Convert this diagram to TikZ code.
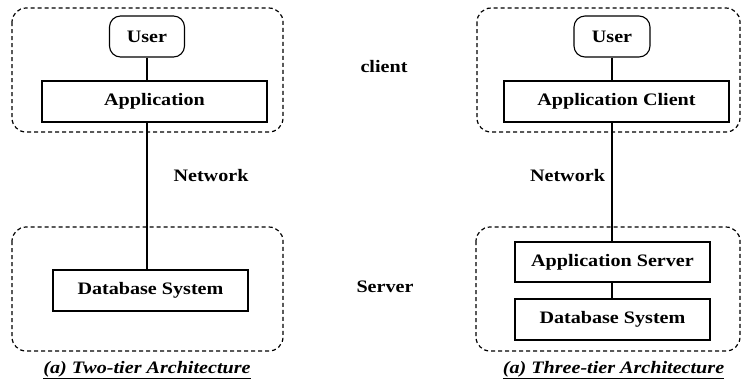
\documentclass[tikz,border=0pt]{standalone}
\usepackage{fontspec}
\setmainfont[FakeStretch=1.15]{Liberation Serif}
\begin{document}
\begin{tikzpicture}[x=1pt,y=-1pt,
  every node/.style={font=\fontsize{17.5}{20}\selectfont\bfseries},
  grp/.style={draw, dash pattern=on 4pt off 3pt, line width=1.2pt, rounded corners=14pt},
  box/.style={draw, line width=1.1pt, inner sep=0pt},
  usr/.style={draw, line width=1.1pt, rounded corners=11pt, inner sep=0pt},
  conn/.style={line width=1.2pt},
  lbl/.style={inner sep=0pt},
  captxt/.style={font=\fontsize{17.5}{20}\selectfont\bfseries\itshape, inner sep=0pt}]
\useasboundingbox (0,0) rectangle (741,384);
% left
\draw[grp] (12,8) rectangle (283,132);
\draw[grp] (12,227) rectangle (283,351);
\node[usr, minimum width=75pt, minimum height=41pt] (u1) at (147,36.5) {User};
\node[box, minimum width=225pt, minimum height=41pt] (a1) at (154.5,101.5) {Application};
\node[box, minimum width=195pt, minimum height=41pt] (d1) at (150.5,290.5) {Database System};
\draw[conn] (u1.south) -- (u1.south |- a1.north);
\draw[conn] (u1.south |- a1.south) -- (u1.south |- d1.north);
\node[lbl] (n1) at (211,176) {Network};
\node[captxt] (c1) at (147,370) {\underline{(a) Two-tier Architecture}};
% middle
\node[lbl] (cl) at (384,67) {client};
\node[lbl] (sv) at (385,287) {Server};
% right
\draw[grp] (477,8) rectangle (740,132);
\draw[grp] (476,227) rectangle (740,351);
\node[usr, minimum width=76pt, minimum height=41pt] (u2) at (612,36.5) {User};
\node[box, minimum width=225pt, minimum height=41pt] (a2) at (616.5,101.5) {Application Client};
\node[box, minimum width=195pt, minimum height=40pt] (as) at (612.5,262) {Application Server};
\node[box, minimum width=195pt, minimum height=41pt] (d2) at (612.5,319.5) {Database System};
\draw[conn] (u2.south) -- (u2.south |- a2.north);
\draw[conn] (u2.south |- a2.south) -- (u2.south |- as.north);
\draw[conn] (u2.south |- as.south) -- (u2.south |- d2.north);
\node[lbl] (n2) at (567.5,176) {Network};
\node[captxt] (c2) at (613.5,370) {\underline{(a) Three-tier Architecture}};
\end{tikzpicture}
\end{document}
